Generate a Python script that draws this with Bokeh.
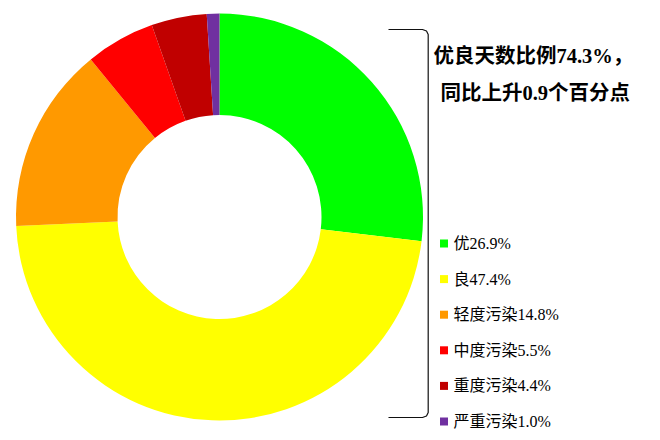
import math
from bokeh.plotting import figure
from bokeh.models import ColumnDataSource, Range1d
from bokeh.core.properties import value
from bokeh.embed import file_html
from bokeh.resources import INLINE

# Air quality levels and their share of days (%)
levels = ['优', '良', '轻度污染', '中度污染', '重度污染', '严重污染']
shares = [26.9, 47.4, 14.8, 5.5, 4.4, 1.0]
colors = ['#00FF00', '#FFFF00', '#FF9900', '#FF0000', '#C00000', '#7030A0']

headline = ['优良天数比例74.3%，', '同比上升0.9个百分点']

FONT = "'Liberation Serif', 'Noto Sans CJK SC'"

# pixel-like canvas, y goes up (bokeh page has no body margin)
W, H = 660, 440
p = figure(width=W, height=H, output_backend="svg", toolbar_location=None,
           x_range=Range1d(0, W), y_range=Range1d(0, H), min_border=0)
p.axis.visible = False
p.grid.visible = False
p.outline_line_color = None

# Donut: starts at 12 o'clock and runs clockwise
total = sum(shares)
starts, ends = [], []
acc = 0.0
for s in shares:
    starts.append(math.pi / 2 - 2 * math.pi * acc / total)
    acc += s
    ends.append(math.pi / 2 - 2 * math.pi * acc / total)

src = ColumnDataSource(dict(start=starts, end=ends, color=colors, level=levels))
p.annular_wedge(x=219, y=223.5, inner_radius=102, outer_radius=203.5,
                start_angle='start', end_angle='end', direction='clock',
                fill_color='color', line_color=None, source=src)

# Bracket on the right side
bx = [388, 422, 426, 427.7, 427.7, 426, 422, 388]
by = [411, 411, 409.5, 406, 28, 24.5, 23, 23]
p.line(bx, by, line_color='#111111', line_width=1.2)

# Headline text
p.text(x=[433, 440], y=[385, 348], text=headline, text_font=value(FONT),
       text_font_size='20.5px', text_font_style='bold', text_color='black',
       text_baseline='middle', text_align='left')

# Legend (squares + labels)
ly = [197 - 35.6 * i for i in range(len(levels))]
labels = [f"{l}{s:.1f}%" for l, s in zip(levels, shares)]
p.scatter(x=[443.5] * len(levels), y=ly, marker='square', size=8,
          fill_color=colors, line_color=None)
p.text(x=[453] * len(levels), y=ly, text=labels, text_font=value(FONT),
       text_font_size='16px', text_color='black',
       text_baseline='middle', text_align='left')

open("out.html", "w").write(file_html(p, INLINE))
